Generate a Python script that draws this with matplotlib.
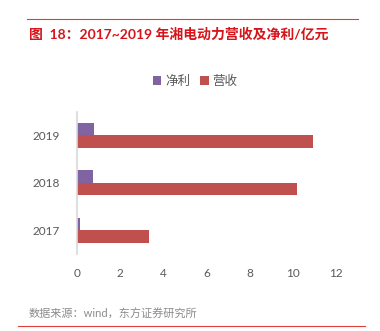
import matplotlib.pyplot as plt
import numpy as np

plt.rcParams['font.family'] = ['Lato', 'Noto Sans CJK SC', 'DejaVu Sans']

# data (亿元)
years = ['2017', '2018', '2019']
net_profit = [0.12, 0.74, 0.79]
revenue = [3.35, 10.2, 10.95]

purple = '#8064A2'
red = '#C0504D'
grey = '#595959'

fig = plt.figure(figsize=(3.8, 3.31), dpi=100)
W, H = 380, 331
ax = fig.add_axes([77 / W, 1 - 254 / H, (336 - 77) / W, (254 - 111.5) / H])

y = np.arange(len(years))
h = 0.265
ax.barh(y + h / 2, net_profit, height=h, color=purple, label='净利')
ax.barh(y - h / 2, revenue, height=h, color=red, label='营收')

ax.set_xlim(0, 12)
ax.set_ylim(-0.5, 2.5)
ax.set_xticks(range(0, 13, 2))
ax.set_yticks(y)
ax.set_yticklabels(years)
for s in ['top', 'right', 'bottom']:
    ax.spines[s].set_visible(False)
ax.spines['left'].set_color('#D9D9D9')
ax.spines['left'].set_linewidth(1.2)
ax.tick_params(length=0, colors=grey, labelsize=8.5)
ax.tick_params(axis='y', pad=12)
ax.tick_params(axis='x', pad=10)

fig.legend(loc='center', bbox_to_anchor=(195 / W, 1 - 81 / H), ncol=2,
           frameon=False, fontsize=9, labelcolor=grey, handlelength=0.7,
           handleheight=0.7, handletextpad=0.3, columnspacing=0.8)

# title and frame lines
fig.add_artist(plt.Line2D([27 / W, 358 / W], [1 - 19 / H, 1 - 19 / H], color='#E03C3C', lw=0.8))
fig.text(29 / W, 1 - 34 / H, '图  18：2017~2019 年湘电动力营收及净利/亿元', color='#D7141A',
         fontsize=10, fontweight='bold', va='center', ha='left')
fig.text(29 / W, 1 - 314 / H, '数据来源：wind，东方证券研究所', color='#8C8C8C',
         fontsize=8, va='center', ha='left')
fig.add_artist(plt.Line2D([18 / W, 365 / W], [1 - 326 / H, 1 - 326 / H], color='#E03C3C', lw=0.8))

fig.savefig('out.png', dpi=100)
